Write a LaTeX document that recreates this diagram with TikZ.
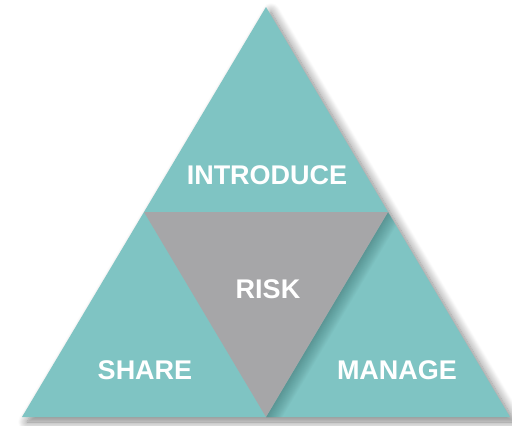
\documentclass[tikz,border=0pt]{standalone}
\usepackage{fontspec}
\setmainfont{Liberation Sans}
\usetikzlibrary{shadows.blur}
\definecolor{tealpart}{HTML}{7FC4C3}
\definecolor{greypart}{HTML}{A6A6A8}
\definecolor{shade}{HTML}{2F5F5E}
\tikzset{
  label text/.style={text=white, font=\bfseries\fontsize{27}{27}\selectfont, inner sep=0pt, anchor=center},
  soft shadow/.style={blur shadow={shadow xshift=5pt, shadow yshift=-5pt, shadow blur radius=9pt, shadow blur steps=12, shadow opacity=50}},
  shade layer/.style={draw=shade, draw opacity=0.035},
}
\begin{document}
\begin{tikzpicture}[x=1pt, y=-1pt]
  \useasboundingbox (0,0) rectangle (512,426);
  % corners of the outer triangle and midpoints of its sides
  \coordinate (apex) at (266,7);
  \coordinate (left) at (22,417);
  \coordinate (right) at (510,417);
  \coordinate (midL) at (144,212);
  \coordinate (midR) at (388,212);
  \coordinate (midB) at (266,417);
  % outer teal triangle with its drop shadow
  \fill[tealpart, soft shadow] (apex) -- (right) -- (left) -- cycle;
  % soft shading cast by the central triangle on the lower right part
  \begin{scope}
    \clip (midR) -- (right) -- (midB) -- cycle;
    \foreach \w in {2,4,...,28} {
      \draw[shade layer, line width=\w pt] (midR) -- (midB);
    }
  \end{scope}
  % central grey triangle
  \fill[greypart] (midL) -- (midR) -- (midB) -- cycle;
  % labels
  \node[label text] (introduce) at (267,175) {INTRODUCE};
  \node[label text] (risk) at (268,289) {RISK};
  \node[label text] (share) at (145,370) {SHARE};
  \node[label text] (manage) at (397,370) {MANAGE};
\end{tikzpicture}
\end{document}
